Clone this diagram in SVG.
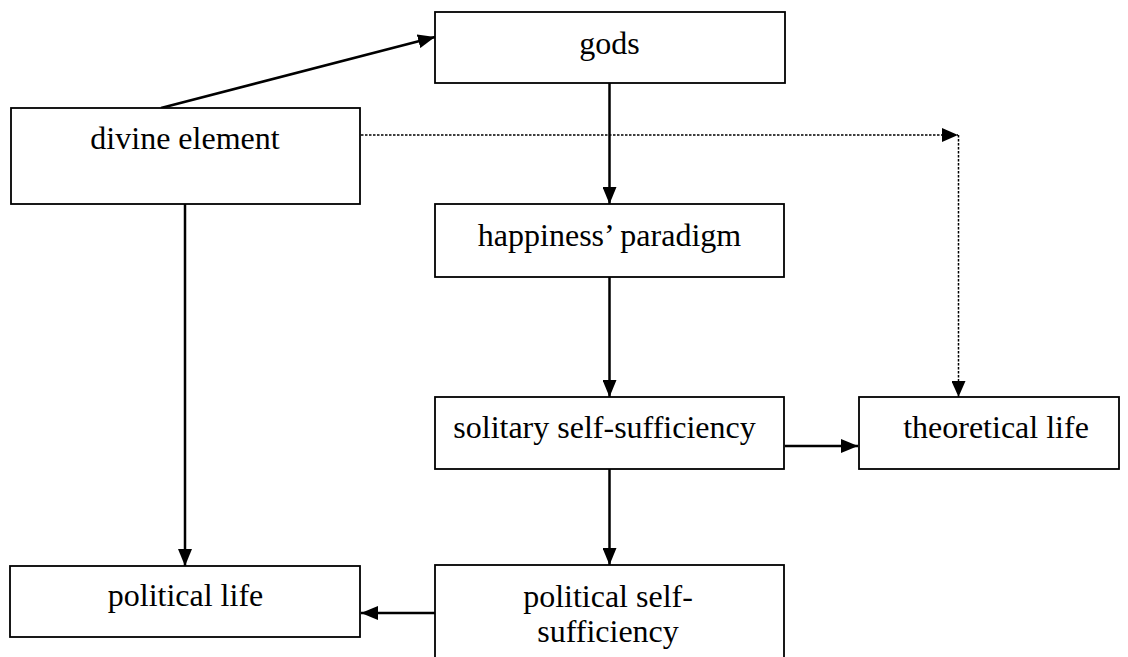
<svg xmlns="http://www.w3.org/2000/svg" width="1128" height="657" viewBox="0 0 1128 657">
<style>
  .box { fill: #ffffff; stroke: #000000; stroke-width: 1.8; }
  .lbl { font-family: "Liberation Serif", "Times New Roman", serif; font-size: 32px; fill: #000000; text-anchor: middle; }
  .conn { fill: none; stroke: #000000; stroke-width: 2.5; }
  .dot { fill: none; stroke: #000000; stroke-width: 1.5; stroke-dasharray: 2.5 1.5; }
</style>
<defs>
  <marker id="arr" viewBox="0 0 17 14" refX="17" refY="7" markerWidth="17" markerHeight="14" markerUnits="userSpaceOnUse" orient="auto">
    <path d="M0,0 L17,7 L0,14 Z" fill="#000000"/>
  </marker>
  <marker id="arrs" viewBox="0 0 16 14" refX="16" refY="7" markerWidth="16" markerHeight="14" markerUnits="userSpaceOnUse" orient="auto">
    <path d="M0,0 L16,7 L0,14 Z" fill="#000000"/>
  </marker>
</defs>
<rect width="1128" height="657" fill="#ffffff"/>

<g id="connectors">
  <line class="conn" x1="161" y1="108" x2="435" y2="37" marker-end="url(#arr)"/>
  <line class="conn" x1="609.5" y1="83" x2="609.5" y2="204" marker-end="url(#arr)"/>
  <line class="conn" x1="609.5" y1="277" x2="609.5" y2="397" marker-end="url(#arr)"/>
  <line class="conn" x1="609.5" y1="469" x2="609.5" y2="565" marker-end="url(#arr)"/>
  <line class="conn" x1="185" y1="204" x2="185" y2="566" marker-end="url(#arr)"/>
  <line class="conn" x1="785" y1="446" x2="858" y2="446" marker-end="url(#arr)"/>
  <line class="conn" x1="435" y1="613" x2="361" y2="613" marker-end="url(#arr)"/>
  <line class="dot" x1="361" y1="135" x2="958" y2="135" marker-end="url(#arrs)"/>
  <line class="dot" x1="958.5" y1="135" x2="958.5" y2="397" marker-end="url(#arrs)"/>
</g>

<g id="node-gods">
  <rect class="box" x="435" y="12" width="350" height="71"/>
  <text class="lbl" x="609.5" y="54">gods</text>
</g>
<g id="node-divine">
  <rect class="box" x="11" y="108" width="349" height="96"/>
  <text class="lbl" x="185" y="149">divine element</text>
</g>
<g id="node-happiness">
  <rect class="box" x="435" y="204" width="349" height="73"/>
  <text class="lbl" x="609.5" y="246">happiness’ paradigm</text>
</g>
<g id="node-solitary">
  <rect class="box" x="435" y="397" width="349" height="72"/>
  <text class="lbl" x="604.5" y="438">solitary self-sufficiency</text>
</g>
<g id="node-theoretical">
  <rect class="box" x="859" y="397" width="260" height="72"/>
  <text class="lbl" x="996" y="438">theoretical life</text>
</g>
<g id="node-political-life">
  <rect class="box" x="10" y="566" width="350" height="71"/>
  <text class="lbl" x="185.5" y="606">political life</text>
</g>
<g id="node-political-self">
  <rect class="box" x="435" y="565" width="349" height="100"/>
  <text class="lbl" x="608" y="607">political self-</text>
  <text class="lbl" x="608" y="642">sufficiency</text>
</g>
</svg>
